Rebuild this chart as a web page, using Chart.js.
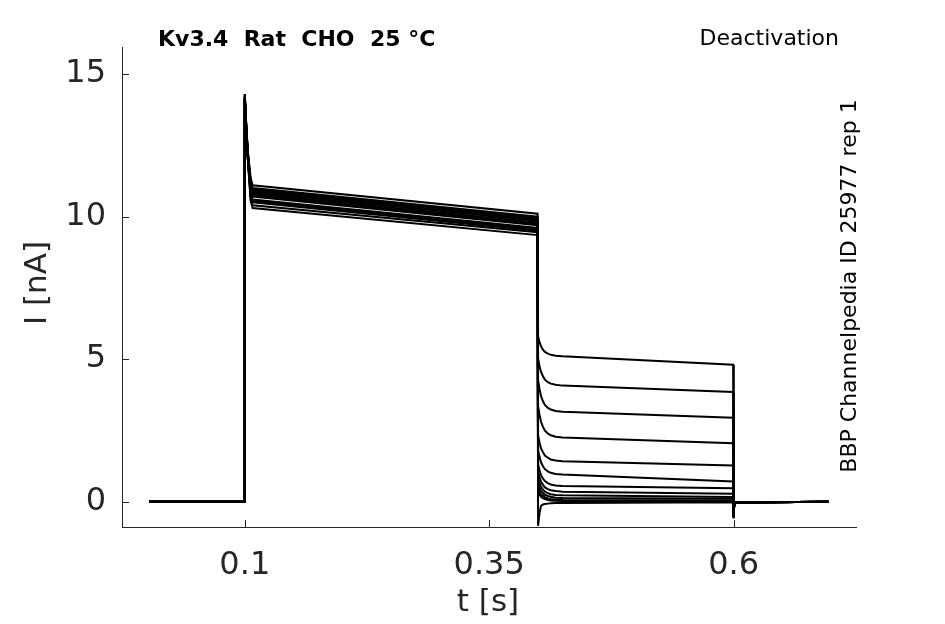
<!DOCTYPE html>
<html>
<head>
<meta charset="utf-8">
<style>
  html, body { margin: 0; padding: 0; background: #fff; }
  #wrap { width: 945px; height: 624px; }
</style>
<script src="https://cdn.jsdelivr.net/npm/chart.js"></script>
</head>
<body>
<div id="wrap"><canvas id="chart" width="945" height="624"></canvas></div>
<script>
// sample times [s], shared by every sweep
const times = [0.002, 0.0995, 0.1, 0.1012, 0.103, 0.106, 0.108, 0.3995, 0.4, 0.4015, 0.403, 0.405, 0.407, 0.41, 0.413, 0.418, 0.425, 0.5995, 0.6, 0.6004, 0.6015, 0.697];

// current [nA] of each sweep at those times
const sweep1  = [0, 0, 14.3, 13.4, 12.3, 11.35, 11.1, 10.1, 5.8, 5.6, 5.45, 5.33, 5.25, 5.19, 5.15, 5.12, 5.1, 4.8, -0.58, -0.25, -0.03, 0];
const sweep2  = [0, 0, 14.3, 13.4, 12.3, 11.25, 11.0, 10.0, 5.02, 4.75, 4.55, 4.4, 4.28, 4.19, 4.14, 4.1, 4.07, 3.85, -0.58, -0.25, -0.03, 0];
const sweep3  = [0, 0, 14.25, 13.4, 12.3, 11.2, 10.95, 9.95, 4.25, 3.95, 3.7, 3.52, 3.39, 3.29, 3.23, 3.18, 3.15, 2.94, -0.57, -0.25, -0.03, 0];
const sweep4  = [0, 0, 14.25, 13.35, 12.25, 11.15, 10.9, 9.9, 3.35, 3.05, 2.8, 2.62, 2.49, 2.39, 2.33, 2.28, 2.25, 2.05, -0.57, -0.24, -0.03, 0];
const sweep5  = [0, 0, 14.2, 13.35, 12.25, 11.1, 10.85, 9.85, 2.32, 2.07, 1.87, 1.73, 1.62, 1.54, 1.48, 1.44, 1.42, 1.27, -0.56, -0.24, -0.03, 0];
const sweep6  = [0, 0, 14.2, 13.3, 12.2, 11.05, 10.8, 9.8, 1.8, 1.57, 1.38, 1.24, 1.14, 1.06, 1.01, 0.97, 0.95, 0.71, -0.56, -0.24, -0.03, 0];
const sweep7  = [0, 0, 14.2, 13.3, 12.2, 11.0, 10.75, 9.75, 1.3, 1.1, 0.93, 0.81, 0.72, 0.65, 0.6, 0.57, 0.55, 0.47, -0.55, -0.23, -0.03, 0];
const sweep8  = [0, 0, 14.15, 13.25, 12.15, 10.95, 10.7, 9.7, 1.05, 0.86, 0.7, 0.59, 0.5, 0.44, 0.4, 0.37, 0.35, 0.28, -0.55, -0.23, -0.03, 0];
const sweep9  = [0, 0, 14.15, 13.25, 12.15, 10.85, 10.6, 9.6, 0.82, 0.66, 0.52, 0.42, 0.35, 0.3, 0.26, 0.23, 0.22, 0.16, -0.55, -0.23, -0.03, 0];
const sweep10 = [0, 0, 14.1, 13.2, 12.1, 10.8, 10.55, 9.55, 0.63, 0.49, 0.38, 0.3, 0.24, 0.2, 0.17, 0.14, 0.13, 0.1, -0.55, -0.22, -0.03, 0];
const sweep11 = [0, 0, 14.1, 13.2, 12.1, 10.75, 10.5, 9.5, 0.46, 0.35, 0.26, 0.2, 0.15, 0.11, 0.09, 0.07, 0.06, 0.04, -0.54, -0.22, -0.03, 0];
const sweep12 = [0, 0, 14.05, 13.15, 12.05, 10.65, 10.4, 9.45, 0.32, 0.24, 0.17, 0.12, 0.09, 0.06, 0.04, 0.03, 0.02, 0.01, -0.54, -0.22, -0.03, 0];
const sweep13 = [0, 0, 14.05, 13.15, 12.05, 10.55, 10.3, 9.35, -0.85, -0.4, -0.15, -0.1, -0.08, -0.07, -0.06, -0.05, -0.05, -0.02, -0.54, -0.22, -0.03, 0];
const sweeps = [sweep1, sweep2, sweep3, sweep4, sweep5, sweep6, sweep7, sweep8, sweep9, sweep10, sweep11, sweep12, sweep13];

const xTicks = [0.1, 0.35, 0.6];
const yTicks = [0, 5, 10, 15];

const axisColor = '#262626';
const fontFamily = '"DejaVu Sans", sans-serif';

const datasets = sweeps.map(function(s) {
    return {
        data: s.map(function(v, i) { return { x: times[i], y: v }; }),
        borderColor: '#000',
        borderWidth: 2,
        pointRadius: 0,
        fill: false,
        tension: 0
    };
});

// inward ticks, as in the original figure
const innerTicks = {
    id: 'innerTicks',
    afterDraw: function(chart) {
        const ctx = chart.ctx;
        const xs = chart.scales.x, ys = chart.scales.y;
        const area = chart.chartArea;
        ctx.save();
        ctx.strokeStyle = axisColor;
        ctx.lineWidth = 1;
        ctx.beginPath();
        xTicks.forEach(function(v) {
            const px = Math.round(xs.getPixelForValue(v)) + 0.5;
            ctx.moveTo(px, area.bottom);
            ctx.lineTo(px, area.bottom - 7);
        });
        yTicks.forEach(function(v) {
            const py = Math.round(ys.getPixelForValue(v)) + 0.5;
            ctx.moveTo(area.left, py);
            ctx.lineTo(area.left + 7, py);
        });
        ctx.stroke();
        ctx.restore();
    }
};

// titles and side labels
const labels = {
    id: 'labels',
    afterDraw: function(chart) {
        const ctx = chart.ctx;
        ctx.save();
        ctx.fillStyle = '#000';
        ctx.textBaseline = 'middle';

        ctx.font = 'bold 22px ' + fontFamily;
        ctx.textAlign = 'left';
        ctx.fillText('Kv3.4  Rat  CHO  25 °C', 158, 40);

        ctx.font = '22px ' + fontFamily;
        ctx.textAlign = 'right';
        ctx.fillText('Deactivation', 839, 39);

        ctx.save();
        ctx.translate(850, 286);
        ctx.rotate(-Math.PI / 2);
        ctx.textAlign = 'center';
        ctx.font = '22px ' + fontFamily;
        ctx.fillText('BBP Channelpedia ID 25977 rep 1', 0, 0);
        ctx.restore();

        ctx.fillStyle = axisColor;
        ctx.font = '31px ' + fontFamily;
        ctx.textAlign = 'center';
        ctx.fillText('t [s]', 488, 603);

        ctx.save();
        ctx.translate(38, 283);
        ctx.rotate(-Math.PI / 2);
        ctx.fillText('I [nA]', 0, 0);
        ctx.restore();

        ctx.restore();
    }
};

new Chart(document.getElementById('chart'), {
    type: 'line',
    data: { datasets: datasets },
    options: {
        responsive: false,
        animation: false,
        devicePixelRatio: 1,
        parsing: false,
        layout: { padding: { left: 0, top: 47, right: 89, bottom: 0 } },
        plugins: {
            legend: { display: false },
            tooltip: { enabled: false }
        },
        scales: {
            x: {
                type: 'linear',
                min: -0.0256,
                max: 0.7252,
                afterBuildTicks: function(scale) {
                    scale.ticks = xTicks.map(function(v) { return { value: v }; });
                },
                afterFit: function(scale) { scale.height = 97; },
                grid: { drawOnChartArea: false, drawTicks: false },
                border: { display: true, color: axisColor, width: 1 },
                ticks: {
                    padding: 19,
                    color: axisColor,
                    font: { family: fontFamily, size: 32 },
                    maxRotation: 0,
                    callback: function(v) { return String(v); }
                }
            },
            y: {
                type: 'linear',
                min: -0.89,
                max: 15.95,
                afterBuildTicks: function(scale) {
                    scale.ticks = yTicks.map(function(v) { return { value: v }; });
                },
                afterFit: function(scale) { scale.width = 122; },
                grid: { drawOnChartArea: false, drawTicks: false },
                border: { display: true, color: axisColor, width: 1 },
                ticks: {
                    padding: 16,
                    color: axisColor,
                    font: { family: fontFamily, size: 32 },
                    callback: function(v) { return String(v); }
                }
            }
        }
    },
    plugins: [innerTicks, labels]
});
</script>
</body>
</html>
